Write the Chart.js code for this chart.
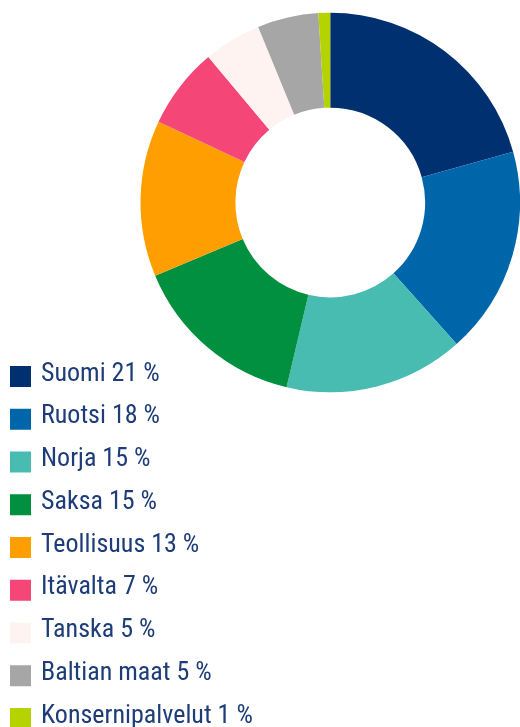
<!DOCTYPE html>
<html><head><meta charset="utf-8">
<script src="https://cdn.jsdelivr.net/npm/chart.js@4/dist/chart.umd.min.js"></script>
<style>html,body{margin:0;padding:0;background:#fff;overflow:hidden}#wrap{width:520px;height:727px;position:relative}</style>
</head><body><div id="wrap"><canvas id="c" width="520" height="727"></canvas></div>
<script>
const labels = ["Suomi", "Ruotsi", "Norja", "Saksa", "Teollisuus", "Itävalta", "Tanska", "Baltian maat", "Konsernipalvelut"];
// slice sizes (percent)
const shares = [20.7, 17.7, 15.3, 15.0, 13.3, 6.9, 4.9, 5.2, 1.0];
// rounded percentages printed in the legend
const legendPercents = [21, 18, 15, 15, 13, 7, 5, 5, 1];
const colors = ["#003070", "#0066aa", "#48bcb0", "#00903f", "#ff9e00", "#f44677", "#fff3f1", "#a6a6a6", "#b5d300"];

const legendPlugin = {
  id: 'sideLegend',
  afterDraw(chart) {
    const ctx = chart.ctx;
    const ds = chart.data.datasets[0];
    ctx.save();
    ctx.font = '26px "Liberation Sans Narrow", "Roboto Condensed", Roboto, sans-serif';
    ctx.textBaseline = 'alphabetic';
    ctx.textAlign = 'left';
    chart.data.labels.forEach((lab, i) => {
      const top = 366 + i * 42.75;
      ctx.fillStyle = ds.backgroundColor[i];
      ctx.fillRect(10, top, 21, 21);
      ctx.fillStyle = '#1d3c78';
      ctx.fillText(lab + ' ' + legendPercents[i] + ' %', 41, top + 14.5);
    });
    ctx.restore();
  }
};

new Chart(document.getElementById('c'), {
  type: 'doughnut',
  data: { labels: labels, datasets: [{ data: shares, backgroundColor: colors, borderWidth: 0, hoverOffset: 0 }] },
  options: {
    responsive: false,
    animation: false,
    cutout: '50%',
    layout: { padding: { left: 140.5, right: -0.5, top: 12.5, bottom: 334.5 } },
    plugins: { legend: { display: false }, tooltip: { enabled: false } }
  },
  plugins: [legendPlugin]
});
</script></body></html>
